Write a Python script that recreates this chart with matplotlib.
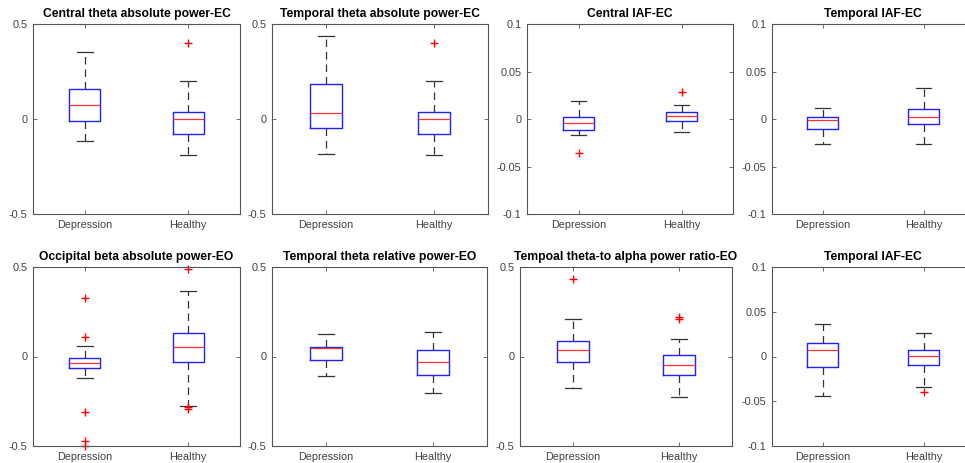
import matplotlib.pyplot as plt

plt.rcParams['font.family'] = ['Liberation Sans', 'DejaVu Sans']
plt.rcParams['axes.unicode_minus'] = False

titles = ['Central theta absolute power-EC', 'Temporal theta absolute power-EC',
          'Central IAF-EC', 'Temporal IAF-EC',
          'Occipital beta absolute power-EO', 'Temporal theta relative power-EO',
          'Tempoal theta-to alpha power ratio-EO', 'Temporal IAF-EC']
groups = ['Depression', 'Healthy']
ylims = [0.5, 0.5, 0.1, 0.1, 0.5, 0.5, 0.5, 0.1]

# (whislo, q1, med, q3, whishi) for [Depression, Healthy]
box_stats = [
    [(-0.114, -0.010, 0.074, 0.158, 0.354), (-0.190, -0.080, -0.002, 0.038, 0.200)],
    [(-0.184, -0.047, 0.033, 0.183, 0.437), (-0.190, -0.080, -0.002, 0.038, 0.200)],
    [(-0.017, -0.012, -0.0046, 0.0021, 0.0193), (-0.0133, -0.0021, 0.0035, 0.0070, 0.0147)],
    [(-0.026, -0.0105, -0.0007, 0.0025, 0.0116), (-0.026, -0.0056, 0.0025, 0.0102, 0.0326)],
    [(-0.119, -0.065, -0.037, -0.011, 0.058), (-0.275, -0.030, 0.052, 0.134, 0.364)],
    [(-0.108, -0.022, 0.050, 0.054, 0.125), (-0.203, -0.104, -0.028, 0.037, 0.139)],
    [(-0.178, -0.033, 0.035, 0.087, 0.208), (-0.227, -0.104, -0.050, 0.011, 0.095)],
    [(-0.0439, -0.0115, 0.0078, 0.0152, 0.0364), (-0.0338, -0.0097, 0.0011, 0.0078, 0.0257)],
]
fliers = [
    [[], [0.398]],
    [[], [0.398]],
    [[-0.0355], [0.0284]],
    [[], []],
    [[0.325, 0.110, -0.312, -0.474, -0.498], [0.491, -0.283, -0.294]],
    [[], []],
    [[0.435], [0.223, 0.212]],
    [[], [-0.0401]],
]

W, H = 965, 463
# axes boxes in pixels: left, top, width, height
boxes_px = [(33, 24, 207, 190), (272, 24, 216, 190), (527, 24, 206, 190), (772, 24, 202, 190),
            (33, 267, 207, 179), (272, 267, 215, 179), (520, 267, 212, 179), (772, 267, 202, 179)]

fig = plt.figure(figsize=(W / 100, H / 100), dpi=100)
edge = '#555555'

for i in range(8):
    l, t, w, h = boxes_px[i]
    ax = fig.add_axes([l / W, 1 - (t + h) / H, w / W, h / H])
    stats = []
    for g in range(2):
        lo, q1, med, q3, hi = box_stats[i][g]
        stats.append(dict(whislo=lo, q1=q1, med=med, q3=q3, whishi=hi,
                          fliers=fliers[i][g], label=groups[g]))
    parts = ax.bxp(stats, positions=[1, 2], widths=0.3, capwidths=0.15,
                   boxprops=dict(color='#2020ff', linewidth=1.0),
                   medianprops=dict(color='#ff3030', linewidth=0.9),
                   whiskerprops=dict(color='#333333', linewidth=0.9, linestyle=(0, (6, 4))),
                   capprops=dict(color='#333333', linewidth=0.9),
                   flierprops=dict(marker='+', markeredgecolor='red', markersize=6,
                                   markeredgewidth=1.0))
    for fl in parts['fliers']:
        fl.set_clip_on(False)
    lim = ylims[i]
    ax.set_xlim(0.5, 2.5)
    ax.set_ylim(-lim, lim)
    if lim == 0.1:
        ticks = [-0.1, -0.05, 0, 0.05, 0.1]
    else:
        ticks = [-0.5, 0, 0.5]
    ax.set_yticks(ticks)
    ax.set_yticklabels(['%g' % v for v in ticks])
    ax.set_xticks([1, 2])
    ax.set_xticklabels(groups)
    ax.tick_params(direction='in', length=3, width=0.6, colors=edge, labelcolor='#404040',
                   labelsize=7.8, top=True, right=True, pad=4)
    for s in ax.spines.values():
        s.set_color(edge)
        s.set_linewidth(0.8)
    ax.set_title(titles[i], fontsize=8.7, fontweight='bold', pad=5)

fig.savefig('out.png', dpi=100)
